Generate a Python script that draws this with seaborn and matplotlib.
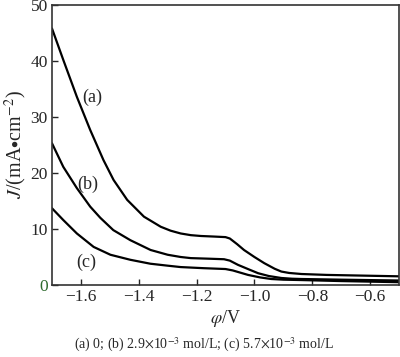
import numpy as np
import pandas as pd
import matplotlib
matplotlib.use("Agg")
import matplotlib.pyplot as plt
import seaborn as sns

sns.set_style("ticks")
plt.rcParams["font.family"] = ["Liberation Serif", "DejaVu Serif"]
plt.rcParams["mathtext.fontset"] = "stix"

# curve (a): 0 mol/L
phi_a = [-1.70, -1.661, -1.614, -1.568, -1.522, -1.487, -1.440, -1.382, -1.324,
         -1.290, -1.255, -1.220, -1.185, -1.140, -1.100, -1.085, -1.060, -1.036,
         -1.000, -0.966, -0.930, -0.907, -0.880, -0.837, -0.75, -0.65, -0.50]
j_a = [45.8, 40.2, 33.6, 27.7, 22.3, 18.75, 15.2, 12.2, 10.4,
       9.7, 9.2, 8.9, 8.75, 8.65, 8.55, 8.3, 7.3, 6.25,
       5.0, 3.9, 2.9, 2.4, 2.15, 1.96, 1.8, 1.7, 1.55]
# curve (b): 2.9e-3 mol/L
phi_b = [-1.70, -1.661, -1.614, -1.568, -1.533, -1.488, -1.429, -1.359, -1.300,
         -1.255, -1.220, -1.160, -1.105, -1.085, -1.057, -1.020, -0.987, -0.950,
         -0.907, -0.870, -0.837, -0.70, -0.50]
j_b = [25.3, 21.1, 17.3, 14.0, 12.0, 9.8, 8.0, 6.25, 5.4,
       5.0, 4.8, 4.7, 4.6, 4.35, 3.6, 2.8, 2.1, 1.6,
       1.25, 1.12, 1.07, 0.95, 0.8]
# curve (c): 5.7e-3 mol/L
phi_c = [-1.70, -1.661, -1.614, -1.556, -1.498, -1.429, -1.360, -1.300, -1.255,
         -1.175, -1.100, -1.075, -1.022, -0.980, -0.942, -0.900, -0.837, -0.70, -0.50]
j_c = [13.7, 11.6, 9.2, 6.8, 5.4, 4.5, 3.8, 3.45, 3.2,
       3.0, 2.85, 2.6, 1.8, 1.35, 1.07, 0.95, 0.88, 0.7, 0.5]

fig = plt.figure(figsize=(4.0, 3.57), dpi=100)
ax = fig.add_axes([0.13, 0.2017, 0.8675, 0.7843])

for phi, j in [(phi_a, j_a), (phi_b, j_b), (phi_c, j_c)]:
    sns.lineplot(x=phi, y=j, ax=ax, color="black", linewidth=1.6)

ax.set_xlim(-1.7, -0.5)
ax.set_ylim(0, 50)
ax.set_xticks([-1.6, -1.4, -1.2, -1.0, -0.8, -0.6])
ax.set_yticks([0, 10, 20, 30, 40, 50])
ax.tick_params(direction="in", length=4, labelsize=12.5, width=1, pad=3)
for s in ax.spines.values():
    s.set_linewidth(1.2)
    s.set_color("#333333")
ax.get_yticklabels()[0].set_color("#2e6b2e")

ax.set_xlabel(r"$\varphi$/V", fontsize=13, labelpad=2)
ax.set_ylabel(r"$J$/(mA$\bullet$cm$^{-2}$)", fontsize=14.5, labelpad=1)

ax.text(-1.56, 33.5, "(a)", fontsize=13, ha="center", va="center")
ax.text(-1.575, 17.9, "(b)", fontsize=13, ha="center", va="center")
ax.text(-1.58, 4.1, "(c)", fontsize=13, ha="center", va="center")

fig.text(0.51, 0.035, r"(a) 0; (b) 2.9$\times$10$^{-3}$ mol/L; (c) 5.7$\times$10$^{-3}$ mol/L",
         fontsize=10, ha="center", va="center")

fig.savefig("out.png", dpi=100)
